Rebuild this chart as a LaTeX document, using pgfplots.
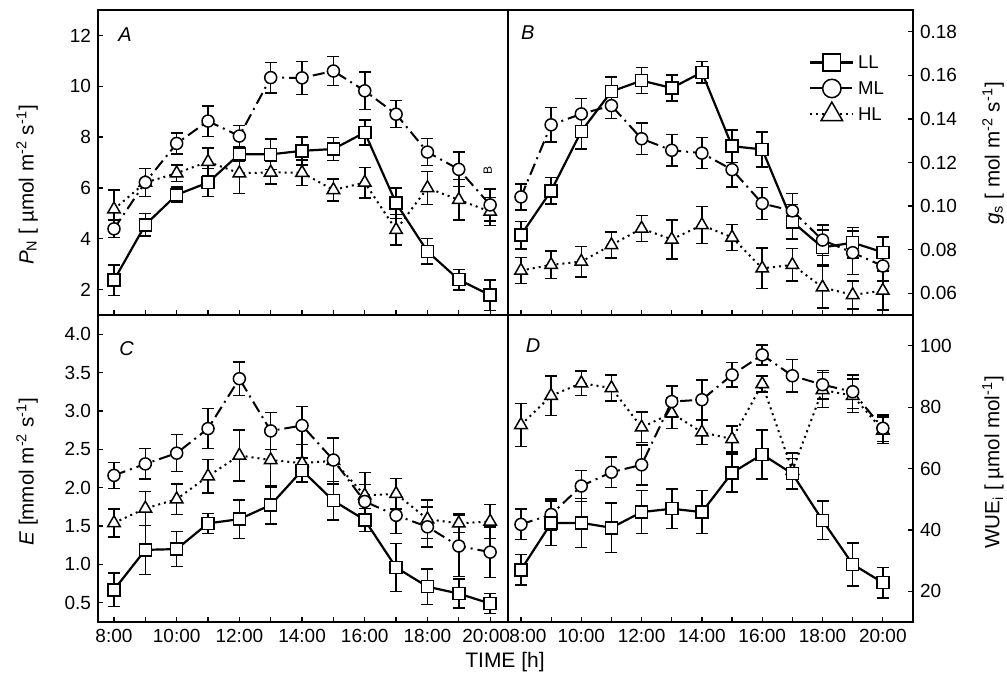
\documentclass[border=0pt]{standalone}
\usepackage{fontspec}
\setmainfont{Liberation Sans}
\setsansfont{Liberation Sans}
\usepackage{pgfplots}
\pgfplotsset{compat=1.18}
\usepackage{pgfplotstable}

% ---------- Panel A: P_N ----------
\pgfplotstableread{
x y e
8 2.37 0.60
9 4.55 0.45
10 5.73 0.30
11 6.21 0.55
12 7.33 0.30
13 7.32 0.60
14 7.46 0.55
15 7.53 0.45
16 8.18 0.50
17 5.40 0.60
18 3.50 0.50
19 2.39 0.40
20 1.78 0.60
}\AL
\pgfplotstableread{
x y e
8 4.39 0.35
9 6.22 0.55
10 7.75 0.42
11 8.63 0.60
12 8.04 0.42
13 10.34 0.60
14 10.33 0.65
15 10.60 0.58
16 9.82 0.74
17 8.90 0.53
18 7.41 0.53
19 6.73 0.68
20 5.33 0.63
}\AM
\pgfplotstableread{
x y e
8 5.16 0.75
9 6.21 0.55
10 6.58 0.33
11 7.03 0.55
12 6.58 0.80
13 6.61 0.45
14 6.60 0.50
15 5.92 0.43
16 6.21 0.60
17 4.35 0.60
18 6.00 0.65
19 5.53 0.80
20 5.07 0.55
}\AH
% ---------- Panel B: g_s ----------
\pgfplotstableread{
x y e
8 0.0867 0.0063
9 0.1070 0.0060
10 0.1343 0.0080
11 0.1526 0.0067
12 0.1576 0.0060
13 0.1542 0.0060
14 0.1614 0.0050
15 0.1275 0.0075
16 0.1260 0.0080
17 0.0928 0.0080
18 0.0810 0.0080
19 0.0832 0.0070
20 0.0788 0.0070
}\BL
\pgfplotstableread{
x y e
8 0.1042 0.0060
9 0.1373 0.0080
10 0.1423 0.0070
11 0.1461 0.0060
12 0.1309 0.0073
13 0.1256 0.0073
14 0.1243 0.0071
15 0.1167 0.0080
16 0.1012 0.0073
17 0.0978 0.0080
18 0.0844 0.0070
19 0.0786 0.0100
20 0.0725 0.0070
}\BM
\pgfplotstableread{
x y e
8 0.0704 0.0060
9 0.0730 0.0063
10 0.0745 0.0070
11 0.0821 0.0060
12 0.0897 0.0060
13 0.0847 0.0090
14 0.0913 0.0085
15 0.0856 0.0060
16 0.0714 0.0093
17 0.0730 0.0075
18 0.0627 0.0095
19 0.0592 0.0065
20 0.0612 0.0090
}\BH
% ---------- Panel C: E ----------
\pgfplotstableread{
x y e
8 0.67 0.22
9 1.19 0.32
10 1.20 0.23
11 1.535 0.13
12 1.59 0.25
13 1.775 0.25
14 2.225 0.16
15 1.83 0.25
16 1.58 0.15
17 0.96 0.31
18 0.71 0.23
19 0.62 0.19
20 0.49 0.13
}\CL
\pgfplotstableread{
x y e
8 2.16 0.17
9 2.31 0.20
10 2.45 0.24
11 2.77 0.26
12 3.42 0.22
13 2.74 0.24
14 2.81 0.25
15 2.36 0.28
16 1.82 0.22
17 1.64 0.24
18 1.49 0.26
19 1.24 0.40
20 1.16 0.33
}\CM
\pgfplotstableread{
x y e
8 1.54 0.18
9 1.73 0.22
10 1.85 0.20
11 2.15 0.22
12 2.42 0.33
13 2.36 0.35
14 2.32 0.24
15 2.35 0.30
16 1.90 0.30
17 1.92 0.20
18 1.59 0.25
19 1.535 0.12
20 1.56 0.22
}\CH
% ---------- Panel D: WUE_i ----------
\pgfplotstableread{
x y e
8 27.0 5.0
9 42.2 7.2
10 42.3 8.0
11 40.7 8.0
12 45.8 7.0
13 46.9 6.4
14 45.8 7.0
15 58.6 6.2
16 64.6 8.0
17 58.3 5.0
18 43.1 6.3
19 28.8 7.0
20 22.8 5.0
}\DL
\pgfplotstableread{
x y e
8 41.8 5.0
9 45.0 5.0
10 54.3 5.0
11 58.8 5.0
12 61.2 6.5
13 81.8 5.0
14 82.4 6.5
15 90.5 4.0
16 97.0 3.3
17 90.2 5.3
18 87.3 4.6
19 85.0 5.4
20 73.1 4.3
}\DM
\pgfplotstableread{
x y e
8 74.2 7.0
9 83.7 6.4
10 87.8 4.0
11 86.2 4.2
12 73.4 5.0
13 78.0 5.0
14 71.8 4.0
15 69.6 4.3
16 87.5 2.6
17 59.3 5.8
18 85.6 5.7
19 83.7 5.5
20 72.4 4.3
}\DH

\pgfplotsset{
  panel/.style={
    scale only axis,
    clip=false,
    tick align=inside,
    major tick length=2.5pt,
    axis line style={line width=0.6pt},
    every tick/.style={black, line width=0.6pt},
    xtick={8,...,20},
    ytick pos=left,
    xtick pos=bottom,
    /pgf/number format/assume math mode=true,
    tick label style={font=\fontsize{9.5}{11}\selectfont},
    ylabel style={anchor=center, font=\fontsize{10.3}{12}\selectfont},
  },
  lbar/.style={error bars/.cd, y dir=both, y explicit,
    error bar style={line width=0.75pt, solid},
    error mark options={rotate=90, mark size=3pt, line width=0.75pt, solid}},
  LLs/.style={black, line width=1.1pt, solid, mark=square*, mark size=3pt,
    mark options={fill=white, solid, line width=0.75pt},
    legend image code/.code={\draw[mark repeat=2, mark phase=2, ##1, mark size=4.3pt]
      plot coordinates {(0pt,0pt) (10.75pt,0pt) (21.5pt,0pt)};},
    lbar},
  MLs/.style={black, line width=1pt, dash pattern=on 6pt off 2.5pt on 1pt off 2.5pt,
    mark=*, mark size=3pt, mark options={fill=white, solid, line width=0.75pt},
    legend image code/.code={\draw[mark repeat=2, mark phase=2, ##1, mark size=4.6pt, dash pattern=on 7pt off 3pt on 1pt off 3pt]
      plot coordinates {(0pt,0pt) (10.75pt,0pt) (21.5pt,0pt)};},
    lbar},
  HLs/.style={black, line width=1pt, dash pattern=on 1pt off 2pt,
    mark=triangle*, mark size=3.6pt, mark options={fill=white, solid, line width=0.75pt},
    legend image code/.code={\draw[mark repeat=2, mark phase=2, ##1, mark size=6.2pt]
      plot coordinates {(0pt,0pt) (10.75pt,0pt) (21.5pt,0pt)};},
    lbar},
}

\begin{document}
\begin{tikzpicture}[font=\fontsize{9.5}{11}\selectfont]
\path[use as bounding box] (0,0) rectangle (503.5pt,340.5pt);

% ---- A ----
\begin{axis}[panel,
  at={(49pt,183pt)}, anchor=south west, width=205pt, height=152.5pt,
  xmin=7.49, xmax=20.57, ymin=1, ymax=13,
  ytick={2,4,...,12}, xticklabels={},
  ylabel={\textit{P}\textsubscript{N} [ µmol m\textsuperscript{-2} s\textsuperscript{-1}]},
  ylabel style={at={(axis description cs:-0.173,0.426)}},
]
\addplot[HLs] table[x=x,y=y,y error=e]{\AH};
\addplot[MLs] table[x=x,y=y,y error=e]{\AM};
\addplot[LLs] table[x=x,y=y,y error=e]{\AL};
\node[font=\fontsize{10}{12}\selectfont\itshape] at (rel axis cs:0.066,0.918) {A};
\node[font=\fontsize{6}{7}\selectfont, rotate=90] at (axis cs:19.92,6.67) {B};
\end{axis}

% ---- B ----
\begin{axis}[panel,
  at={(254pt,183pt)}, anchor=south west, width=202.5pt, height=152.5pt,
  xmin=7.57, xmax=21.0, ymin=0.05, ymax=0.19,
  ytick={0.06,0.08,...,0.18}, xticklabels={},
  ytick pos=right, yticklabel pos=right,
  yticklabel style={/pgf/number format/.cd, fixed, fixed zerofill, precision=2},
  ylabel={\textit{g}\textsubscript{s} [ mol m\textsuperscript{-2} s\textsuperscript{-1}]},
  ylabel style={at={(axis description cs:1.1975,0.53)}},
  legend cell align=left,
  legend style={at={(rel axis cs:0.728,0.885)}, anchor=north west, draw=none, fill=none,
    row sep=0pt, font=\fontsize{9.3}{11}\selectfont,
    nodes={inner sep=1.8pt, text height=7.6pt, text depth=1.8pt}},
]
\addplot[LLs] table[x=x,y=y,y error=e]{\BL}; \addlegendentry{LL}
\addplot[MLs] table[x=x,y=y,y error=e]{\BM}; \addlegendentry{ML}
\addplot[HLs] table[x=x,y=y,y error=e]{\BH}; \addlegendentry{HL}
\node[font=\fontsize{10}{12}\selectfont\itshape] at (rel axis cs:0.049,0.925) {B};
\end{axis}

% ---- C ----
\begin{axis}[panel,
  at={(49pt,29.5pt)}, anchor=south west, width=205pt, height=153.5pt,
  xmin=7.49, xmax=20.57, ymin=0.25, ymax=4.25,
  ytick={0.5,1.0,...,4.0},
  yticklabel style={/pgf/number format/.cd, fixed, fixed zerofill, precision=1},
  xticklabels={8:00,,10:00,,12:00,,14:00,,16:00,,18:00,,\hspace*{-4pt}20:00},
  ylabel={\textit{E}  [mmol m\textsuperscript{-2} s\textsuperscript{-1}]},
  ylabel style={at={(axis description cs:-0.173,0.49)}},
]
\addplot[HLs] table[x=x,y=y,y error=e]{\CH};
\addplot[MLs] table[x=x,y=y,y error=e]{\CM};
\addplot[LLs] table[x=x,y=y,y error=e]{\CL};
\node[font=\fontsize{10}{12}\selectfont\itshape] at (rel axis cs:0.07,0.89) {C};
\end{axis}

% ---- D ----
\begin{axis}[panel,
  at={(254pt,29.5pt)}, anchor=south west, width=202.5pt, height=153.5pt,
  xmin=7.57, xmax=21.0, ymin=10, ymax=110,
  ytick={20,40,...,100},
  ytick pos=right, yticklabel pos=right,
  xticklabels={8:00\hspace*{-7pt},,10:00,,12:00,,14:00,,16:00,,18:00,,20:00},
  ylabel={WUE\textsubscript{i} [ µmol mol\textsuperscript{-1}]},
  ylabel style={at={(axis description cs:1.1975,0.52)}},
]
\addplot[HLs] table[x=x,y=y,y error=e]{\DH};
\addplot[MLs] table[x=x,y=y,y error=e]{\DM};
\addplot[LLs] table[x=x,y=y,y error=e]{\DL};
\node[font=\fontsize{10}{12}\selectfont\itshape] at (rel axis cs:0.062,0.90) {D};
\end{axis}

\node[font=\fontsize{10.5}{12}\selectfont] at (252.5pt,9.5pt) {TIME [h]};
\end{tikzpicture}
\end{document}
